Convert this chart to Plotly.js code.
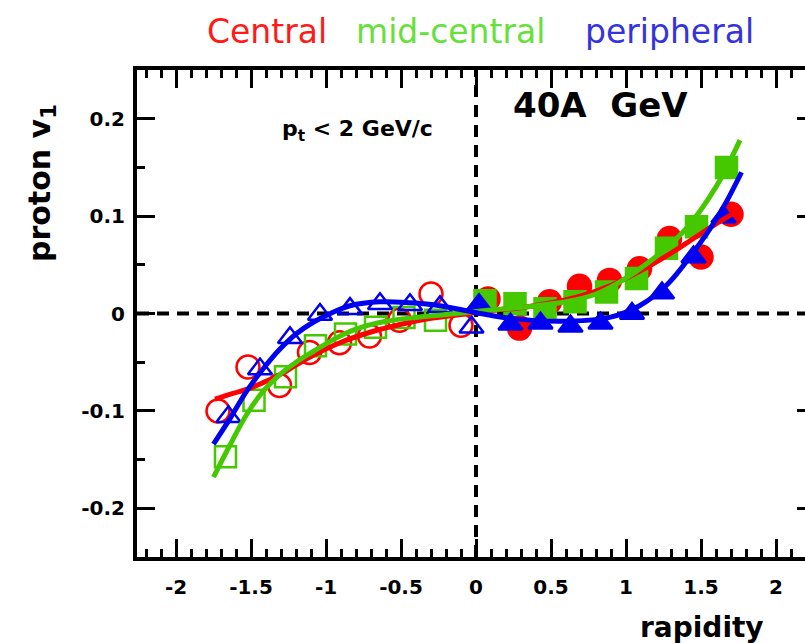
<!DOCTYPE html>
<html>
<head>
<meta charset="utf-8">
<script src="https://cdn.plot.ly/plotly-3.0.1.min.js"></script>
<style>
html, body { margin: 0; padding: 0; overflow: hidden; background: #fff; }
#chart { width: 820px; height: 643px; }
</style>
</head>
<body>
<div id="chart"></div>
<script>
// ---- data ----
// Central (red): open circles for y<0, filled for y>0
var centralNegX = [-1.72, -1.52, -1.31, -1.11, -0.91, -0.71, -0.51, -0.30, -0.10];
var centralNegV = [-0.100, -0.055, -0.074, -0.040, -0.030, -0.023, -0.007, 0.020, -0.012];
var centralPosX = [0.08, 0.29, 0.49, 0.69, 0.89, 1.09, 1.29, 1.50, 1.70];
var centralPosV = [0.015, -0.015, 0.012, 0.028, 0.034, 0.046, 0.077, 0.058, 0.102];
// Mid-central (green): open squares for y<0, filled for y>0
var midNegX = [-1.67, -1.48, -1.27, -1.07, -0.87, -0.67, -0.48, -0.27];
var midNegV = [-0.147, -0.089, -0.065, -0.033, -0.021, -0.014, -0.004, -0.007];
var midPosX = [0.06, 0.26, 0.46, 0.66, 0.87, 1.07, 1.27, 1.47, 1.67];
var midPosV = [0.013, 0.010, 0.005, 0.012, 0.022, 0.036, 0.067, 0.089, 0.150];
// Peripheral (blue): open triangles for y<0, filled for y>0
var periNegX = [-1.65, -1.44, -1.24, -1.04, -0.84, -0.64, -0.44, -0.24, -0.03];
var periNegV = [-0.106, -0.057, -0.025, -0.001, 0.005, 0.010, 0.009, 0.007, -0.014];
var periPosX = [0.02, 0.23, 0.43, 0.63, 0.83, 1.04, 1.24, 1.45, 1.65];
var periPosV = [0.009, -0.011, -0.010, -0.013, -0.010, 0.000, 0.021, 0.058, 0.099];
// fitted curves
var centralFitX = [-1.74, -1.62, -1.53, -1.42, -1.31, -1.20, -1.085, -0.907, -0.70, -0.50, -0.30, -0.10, 0.10, 0.30, 0.50, 0.70, 0.90, 1.10, 1.30, 1.45, 1.60, 1.72];
var centralFitV = [-0.088, -0.082, -0.078, -0.071, -0.063, -0.053, -0.043, -0.030, -0.019, -0.011, -0.005, -0.001, 0.003, 0.006, 0.011, 0.018, 0.029, 0.044, 0.062, 0.077, 0.092, 0.103];
var midFitX = [-1.75, -1.64, -1.53, -1.42, -1.31, -1.20, -1.085, -0.93, -0.80, -0.60, -0.40, -0.20, 0.00, 0.20, 0.40, 0.60, 0.80, 0.96, 1.18, 1.40, 1.60, 1.76];
var midFitV = [-0.168, -0.135, -0.104, -0.080, -0.063, -0.050, -0.039, -0.025, -0.016, -0.008, -0.004, -0.001, 0.002, 0.005, 0.008, 0.012, 0.020, 0.0325, 0.056, 0.087, 0.130, 0.178];
var periFitX = [-1.75, -1.64, -1.53, -1.42, -1.31, -1.20, -1.085, -0.97, -0.84, -0.64, -0.44, -0.24, 0.03, 0.23, 0.56, 0.89, 1.09, 1.27, 1.45, 1.63, 1.77];
var periFitV = [-0.134, -0.108, -0.080, -0.057, -0.037, -0.021, -0.009, 0.000, 0.008, 0.012, 0.011, 0.008, 0.000, -0.005, -0.008, -0.004, 0.008, 0.029, 0.063, 0.104, 0.145];
// axis ticks
var xTickVals = [-2, -1.5, -1, -0.5, 0, 0.5, 1, 1.5, 2];
var xTickText = ['-2', '-1.5', '-1', '-0.5', '0', '0.5', '1', '1.5', '2'];
var yTickVals = [-0.2, -0.1, 0, 0.1, 0.2];
var yTickText = ['-0.2', '-0.1', '0', '0.1', '0.2'];
// legend words
var groupNames = ['Central', 'mid-central', 'peripheral'];

var RED = '#ff0000', GREEN = '#46c800', BLUE = '#0000f0';
var FONT = 'DejaVu Sans';

function markers(x, y, sym, color, size) {
  return {x: x, y: y, mode: 'markers', type: 'scatter', showlegend: false, cliponaxis: false,
    marker: {symbol: sym, size: size, color: color, line: {color: color, width: 2.5}}};
}
function fit(x, y, color) {
  return {x: x, y: y, mode: 'lines', type: 'scatter', showlegend: false,
    line: {color: color, width: 5, shape: 'spline', smoothing: 1}};
}

var traces = [
  markers(centralNegX, centralNegV, 'circle-open', RED, 23),
  markers(centralPosX, centralPosV, 'circle', RED, 23),
  markers(midNegX, midNegV, 'square-open', GREEN, 21),
  markers(midPosX, midPosV, 'square', GREEN, 21),
  markers(periNegX, periNegV, 'triangle-up-open', BLUE, 21),
  markers(periPosX, periPosV, 'triangle-up', BLUE, 21),
  fit(centralFitX, centralFitV, RED),
  fit(midFitX, midFitV, GREEN),
  fit(periFitX, periFitV, BLUE)
];

var axisCommon = {
  showline: true, linewidth: 4, linecolor: '#000', mirror: 'ticks',
  ticks: 'inside', ticklen: 18, tickwidth: 3, tickcolor: '#000',
  showgrid: false, zeroline: false, tickmode: 'array',
  tickfont: {family: FONT, size: 20, weight: 'bold', color: '#000'}
};

var layout = {
  width: 820, height: 643,
  margin: {l: 137, r: 5, t: 70, b: 86},
  paper_bgcolor: '#fff', plot_bgcolor: '#fff',
  showlegend: false,
  xaxis: Object.assign({}, axisCommon, {
    range: [-2.26, 2.26], tickvals: xTickVals, ticktext: xTickText,
    ticklabelstandoff: 9,
    minor: {tickmode: 'linear', tick0: 0, dtick: 0.1, ticks: 'inside', ticklen: 8, tickwidth: 3, tickcolor: '#000'}
  }),
  yaxis: Object.assign({}, axisCommon, {
    range: [-0.25, 0.25], tickvals: yTickVals, ticktext: yTickText,
    ticklabelstandoff: 4,
    minor: {tickmode: 'linear', tick0: 0, dtick: 0.05, ticks: 'inside', ticklen: 8, tickwidth: 3, tickcolor: '#000'}
  }),
  shapes: [
    {type: 'line', xref: 'paper', yref: 'y', x0: 0, x1: 1, y0: 0, y1: 0, layer: 'below',
     line: {color: '#000', width: 4, dash: '12px,8px'}},
    {type: 'line', xref: 'x', yref: 'paper', x0: 0, x1: 0, y0: 0, y1: 1, layer: 'below',
     line: {color: '#000', width: 4, dash: '12px,8px'}}
  ],
  annotations: [
    {xref: 'paper', yref: 'paper', x: 0.1003, y: 1.080, xanchor: 'left', yanchor: 'middle', showarrow: false,
     text: groupNames[0], font: {family: FONT, size: 33, color: '#ff1a1a'}},
    {xref: 'paper', yref: 'paper', x: 0.320, y: 1.080, xanchor: 'left', yanchor: 'middle', showarrow: false,
     text: groupNames[1], font: {family: FONT, size: 33, color: '#66e03a'}},
    {xref: 'paper', yref: 'paper', x: 0.658, y: 1.080, xanchor: 'left', yanchor: 'middle', showarrow: false,
     text: groupNames[2], font: {family: FONT, size: 33, color: '#3434dc'}},
    {xref: 'paper', yref: 'paper', x: -0.140, y: 0.768, xanchor: 'center', yanchor: 'middle', showarrow: false,
     textangle: -90, text: 'proton v<sub>1</sub>', font: {family: FONT, size: 30, weight: 'bold', color: '#000'}},
    {xref: 'paper', yref: 'paper', x: 0.833, y: -0.144, xanchor: 'center', yanchor: 'middle', showarrow: false,
     text: 'rapidity', font: {family: FONT, size: 28, weight: 'bold', color: '#000'}},
    {xref: 'paper', yref: 'paper', x: 0.684, y: 0.928, xanchor: 'center', yanchor: 'middle', showarrow: false,
     text: '40A&nbsp; GeV', font: {family: FONT, size: 34, weight: 'bold', color: '#000'}},
    {xref: 'paper', yref: 'paper', x: 0.3245, y: 0.875, xanchor: 'center', yanchor: 'middle', showarrow: false,
     text: 'p<sub>t</sub> &lt; 2 GeV/c', font: {family: FONT, size: 22, weight: 'bold', color: '#000'}}
  ]
};

Plotly.newPlot('chart', traces, layout, {staticPlot: true, displayModeBar: false});
</script>
</body>
</html>
